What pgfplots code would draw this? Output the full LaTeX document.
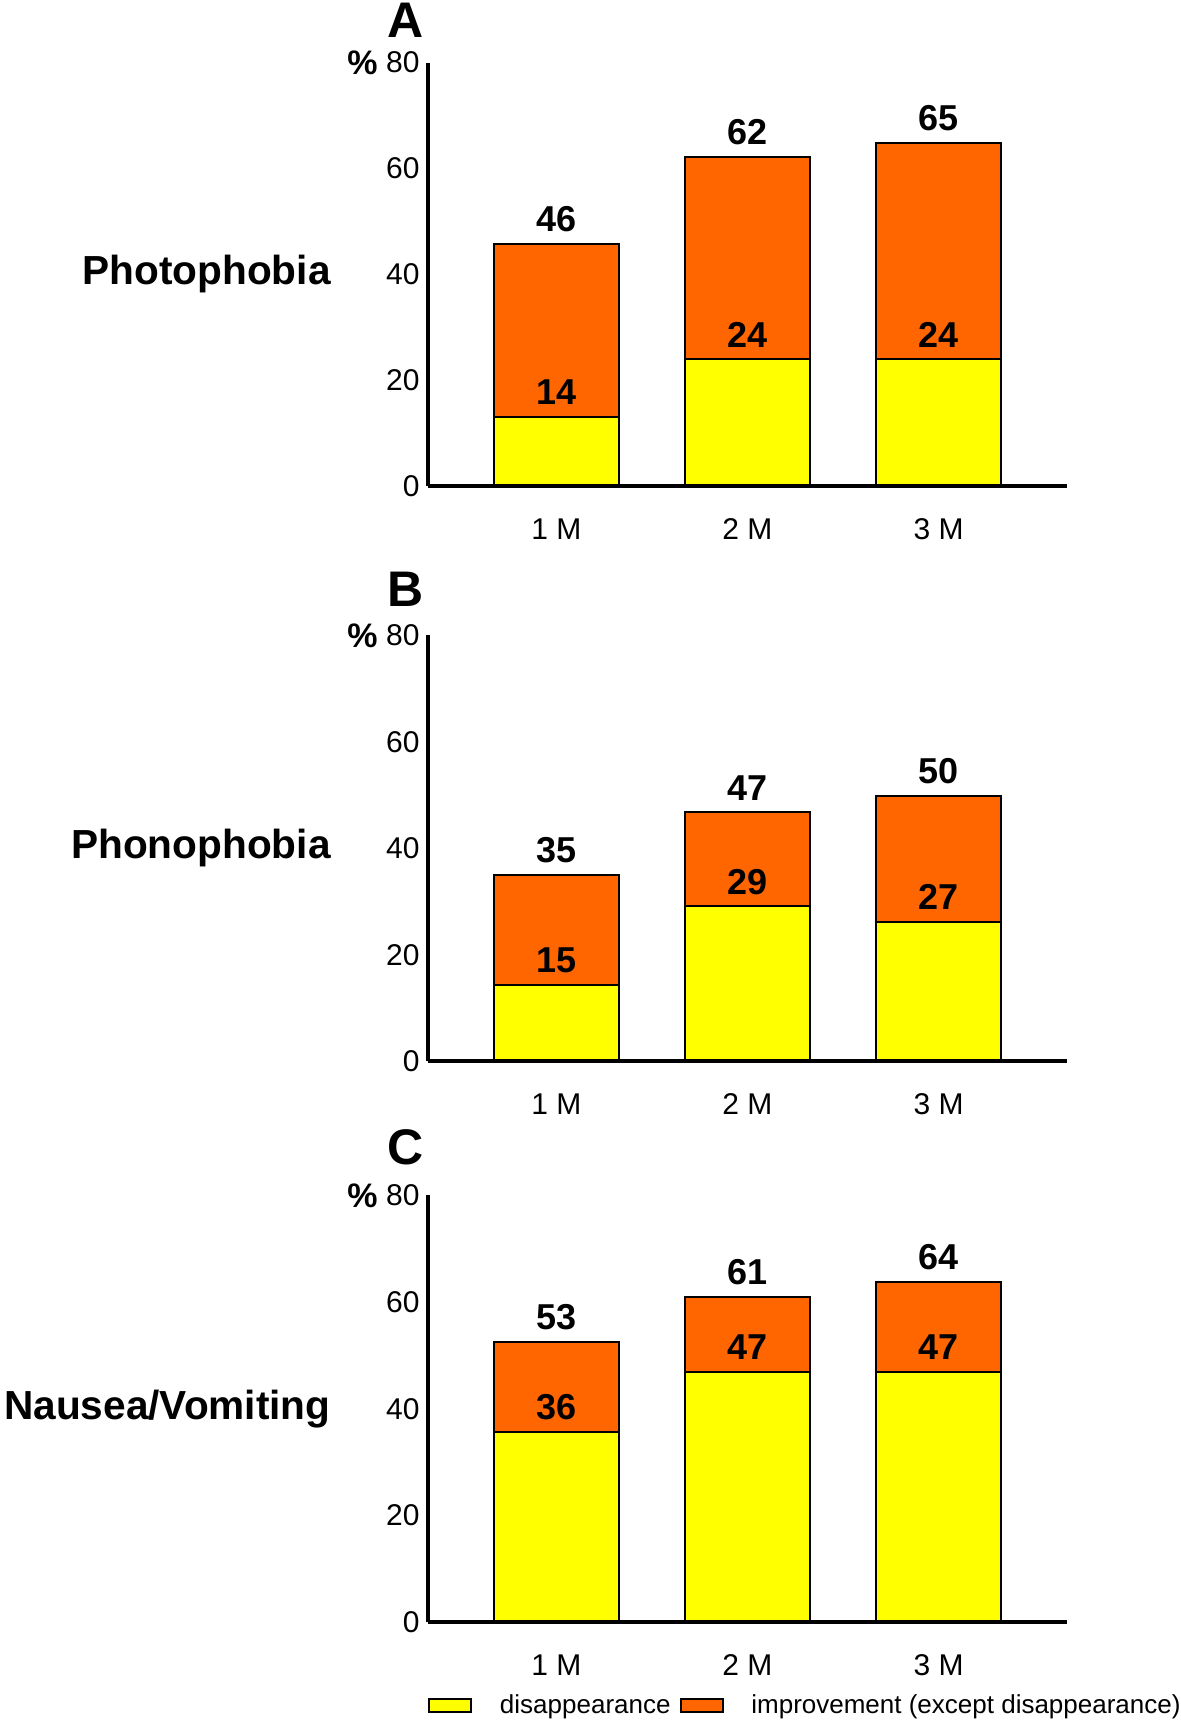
\documentclass[border=0pt]{standalone}
\usepackage{fontspec}
\setmainfont{Liberation Sans}
\usepackage{pgfplots}
\pgfplotsset{compat=1.18}
\usepackage{pgfplotstable}
\definecolor{yel}{HTML}{FFFF00}
\definecolor{ora}{HTML}{FF6600}

% dis = disappearance, tot = disappearance + improvement (top of bar)
\pgfplotstableread{
x dis tot dlab tlab
1 13.1 45.8 14 46
2 24.0 62.2 24 62
3 24.0 64.9 24 65
}\dataA
\pgfplotstableread{
x dis tot dlab tlab
1 14.3 35.0 15 35
2 29.1 46.8 29 47
3 26.2 49.9 27 50
}\dataB
\pgfplotstableread{
x dis tot dlab tlab
1 35.6 52.6 36 53
2 46.9 60.9 47 61
3 46.9 63.8 47 64
}\dataC

\pgfplotsset{
  boxleg/.style={legend image code/.code={\draw[##1, line width=1pt] (0pt,-3.25pt) rectangle (21pt,3.25pt);}},
  panel/.style={
    width=319.5pt, scale only axis,
    ybar, bar width=0.655, bar shift=0pt,
    xmin=0.328, xmax=3.672, ymin=0, ymax=80,
    axis lines=left, axis line style={line width=2pt, -},
    axis on top,
    ytick={0,20,40,60,80}, xtick={1,2,3}, xticklabels={1 M,2 M,3 M},
    major tick length=0pt,
    tick label style={font=\fontsize{15}{18}\selectfont},
    yticklabel style={anchor=east, inner sep=0pt, xshift=-4pt},
    xticklabel style={anchor=north, inner sep=0pt, yshift=-16pt},
    /pgf/number format/assume math mode=true,
    clip=false,
    point meta=explicit symbolic,
    nodes near coords,
    nodes near coords style={font=\fontsize{18}{20}\selectfont\bfseries, anchor=south, inner sep=0pt, yshift=5.5pt},
    every axis plot/.append style={draw=black, line width=1pt},
  }
}

\newcommand{\panelextras}[3]{%
  \node[anchor=east, inner sep=0pt, xshift=-48.5pt, font=\fontsize{20.3}{22}\selectfont\bfseries] at (axis description cs:0,0.5) {#1};
  \node[anchor=east, inner sep=0pt, xshift=-25pt, font=\fontsize{17}{19}\selectfont\bfseries] at (axis description cs:0,1) {\%};
  \node[anchor=center, inner sep=0pt, xshift=-11pt, yshift=#3, font=\fontsize{25}{27}\selectfont\bfseries] at (axis description cs:0,1) {#2};
}

\begin{document}
\begin{tikzpicture}
\useasboundingbox (0,0) rectangle (590.5pt,860.5pt);

\begin{axis}[panel, height=211.8pt, at={(214pt,617.4pt)}, anchor=south west]
\addplot[fill=ora] table[x=x, y=tot, meta=tlab] {\dataA};
\addplot[fill=yel] table[x=x, y=dis, meta=dlab] {\dataA};
\panelextras{Photophobia}{A}{21pt}
\end{axis}

\begin{axis}[panel, height=213pt, at={(214pt,329.8pt)}, anchor=south west]
\addplot[fill=ora] table[x=x, y=tot, meta=tlab] {\dataB};
\addplot[fill=yel] table[x=x, y=dis, meta=dlab] {\dataB};
\panelextras{Phonophobia}{B}{23pt}
\end{axis}

\begin{axis}[panel, height=213.5pt, at={(214pt,49.35pt)}, anchor=south west,
  legend columns=-1,
  legend style={at={(axis description cs:0,0)}, anchor=west, yshift=-41.7pt, xshift=0pt,
    draw=none, fill=none, inner sep=0pt, font=\fontsize{13}{15}\selectfont,
    /tikz/every odd column/.append style={column sep=11.8pt},
    /tikz/every even column/.append style={column sep=2.6pt}},
  reverse legend]
\addplot[fill=ora, boxleg] table[x=x, y=tot, meta=tlab] {\dataC};
\addlegendentry{improvement (except disappearance)}
\addplot[fill=yel, boxleg] table[x=x, y=dis, meta=dlab] {\dataC};
\addlegendentry{disappearance}
\panelextras{Nausea/Vomiting}{C}{24pt}
\end{axis}
\end{tikzpicture}
\end{document}
